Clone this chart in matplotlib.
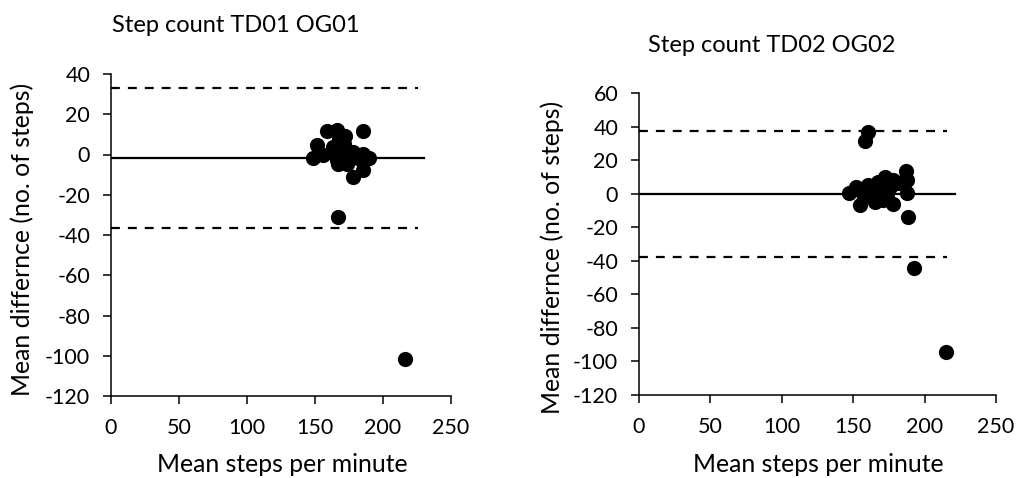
import matplotlib
matplotlib.use("Agg")
import matplotlib.pyplot as plt

plt.rcParams['font.family'] = ['Lato', 'DejaVu Sans']
plt.rcParams['axes.unicode_minus'] = False

# Chart 1: Step count TD01 OG01
x1 = [148.3, 151.7, 155.6, 159.0, 166.4, 168.0, 172.0, 163.5, 167.2, 173.3, 178.2,
      178.2, 185.0, 185.5, 185.5, 190.0, 167.2, 216.2, 169.6, 174.5, 181.9, 164.7, 171.0,
      166.0, 170.5]
y1 = [-1.5, 4.8, -0.2, 11.8, 12.1, 7.6, 9.3, 3.5, -4.8, -4.8, 1.0,
      -11.4, -7.8, 11.8, 0.2, -1.8, -31.3, -101.4, 1.0, -1.5, -1.5, 0.2, 5.1,
      -2.5, -3.5]
mean1 = -1.5
loa1 = [33.0, -36.4]

# Chart 2: Step count TD02 OG02
x2 = [147.2, 151.9, 154.7, 160.5, 158.2, 160.5, 162.9, 165.2, 167.5, 169.9, 172.2,
      173.4, 177.6, 175.7, 181.5, 186.9, 187.4, 187.4, 188.6, 192.5, 214.9, 178.0,
      166.4, 156.8, 171.0, 184.0]
y2 = [0.3, 3.9, -6.5, 4.9, 31.3, 36.7, -2.1, -5.1, 6.9, 1.9, 9.8,
      -2.1, -6.1, 3.9, 6.3, 13.4, 7.9, 0.3, -14.0, -44.2, -94.6, 7.9,
      1.9, -0.1, -4.0, 6.8]
mean2 = 0.0
loa2 = [37.5, -37.5]

titles = ["Step count TD01 OG01", "Step count TD02 OG02"]
xlabel = "Mean steps per minute"
ylabel = "Mean differnce (no. of steps)"

fig = plt.figure(figsize=(10.2, 4.78), dpi=100)
W, H = 1020, 478

def px_axes(l, r, t, b):
    return fig.add_axes([l / W, 1 - b / H, (r - l) / W, (b - t) / H])

ax1 = px_axes(111, 451, 74, 396)
ax2 = px_axes(639, 996, 93, 395)

configs = [
    (ax1, x1, y1, mean1, loa1, (-120, 40), range(-120, 41, 20), 230, 226),
    (ax2, x2, y2, mean2, loa2, (-120, 60), range(-120, 61, 20), 221, 215.5),
]

for ax, xs, ys, m, loa, ylim, yt, mend, dend in configs:
    ax.scatter(xs, ys, s=120, color='black', zorder=3, linewidths=0, clip_on=False)
    ax.plot([0, mend], [m, m], color='black', lw=1.6, zorder=2)
    for v in loa:
        ax.plot([0, dend], [v, v], color='black', lw=1.6, dashes=(4, 3.6), zorder=2)
    ax.set_xlim(0, 250)
    ax.set_ylim(*ylim)
    ax.set_xticks(range(0, 251, 50))
    ax.set_yticks(list(yt))
    for s in ['top', 'right']:
        ax.spines[s].set_visible(False)
    for s in ['left', 'bottom']:
        ax.spines[s].set_linewidth(1.1)
    ax.tick_params(direction='out', length=6, width=1.1, labelsize=15.5)
    ax.tick_params(axis='y', pad=9)
    ax.tick_params(axis='x', pad=10)
    ax.patch.set_alpha(0)

fig.text(112 / W, 1 - 25 / H, titles[0], fontsize=17, va='center', ha='left')
fig.text(648 / W, 1 - 45 / H, titles[1], fontsize=17, va='center', ha='left')

fig.text(282 / W, 1 - 465 / H, xlabel, fontsize=17.8, ha='center', va='center')
fig.text(818 / W, 1 - 465 / H, xlabel, fontsize=17.8, ha='center', va='center')
fig.text(22 / W, 1 - 239 / H, ylabel, fontsize=17.8, ha='center', va='center', rotation=90)
fig.text(552 / W, 1 - 257 / H, ylabel, fontsize=17.8, ha='center', va='center', rotation=90)

fig.savefig("out.png", dpi=100, facecolor='white')
